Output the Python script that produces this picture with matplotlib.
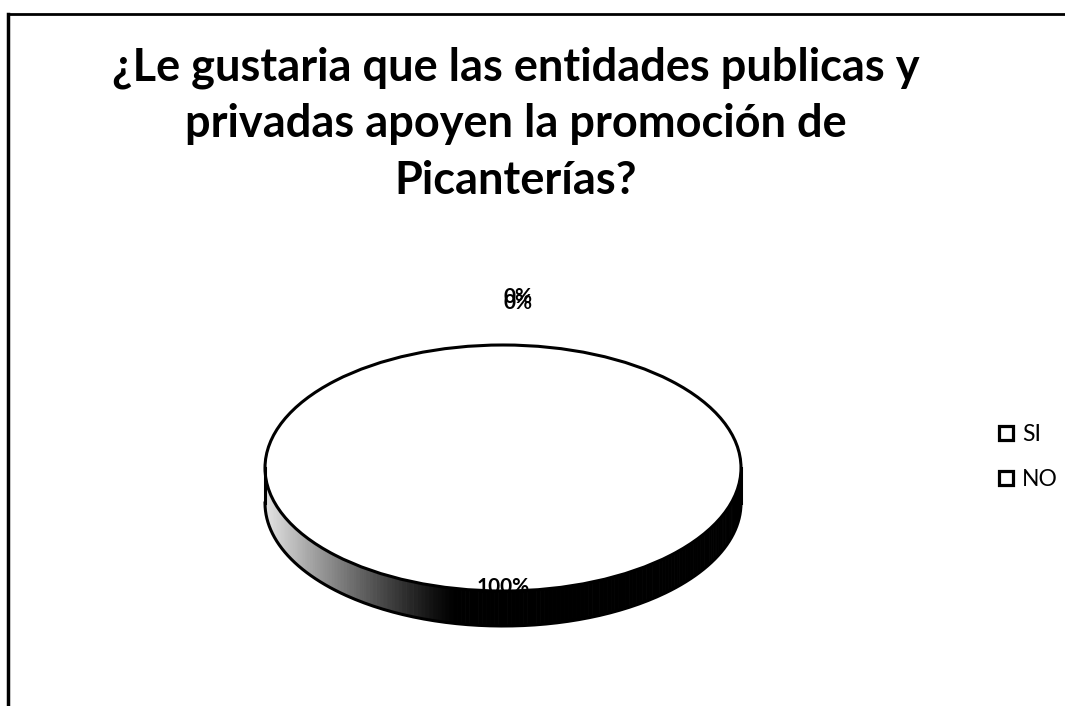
import matplotlib.pyplot as plt
import numpy as np
from matplotlib.lines import Line2D
from matplotlib.patches import Circle, Polygon

plt.rcParams["font.family"] = ["Lato", "DejaVu Sans"]

title = "¿Le gustaria que las entidades publicas y\nprivadas apoyen la promoción de\nPicanterías?"
categories = ["SI", "NO"]
values = [100, 0]

# Pie geometry in pixels (centre, semi axes, side depth)
cx, cy, rx, ry, depth_px = 503, 468, 238, 123, 35
W, H = 1065, 706

fig = plt.figure(figsize=(W / 100, H / 100), dpi=100)
ax = fig.add_axes([0, 0, 1, 1])

wedges, texts, autotexts = ax.pie(
    values,
    startangle=90,
    counterclock=False,
    colors=["white"] * len(values),
    autopct="%1.0f%%",
    wedgeprops=dict(linewidth=0, zorder=3),
    textprops=dict(fontsize=15, fontweight="bold", color="black"),
)
ax.set_aspect("auto")
# map unit circle onto the ellipse
ax.set_xlim(-cx / rx, (W - cx) / rx)
ax.set_ylim((cy - H) / ry, cy / ry)
ax.axis("off")

d = depth_px / ry

# side of the disc with light-to-dark shading
for w in wedges:
    t1, t2 = w.theta1, w.theta2
    for t in np.arange(t1, t2, 1.0):
        a = np.radians(t) % (2 * np.pi)
        if a < np.pi:
            continue
        b = np.radians(min(t + 1.0, t2))
        x0, y0 = np.cos(a), np.sin(a)
        x1, y1 = np.cos(b), np.sin(b)
        s = np.clip((-0.2 - (x0 + x1) / 2) / 0.8, 0, 1)
        g = 0.9 * s ** 1.2
        col = (g, g, g)
        ax.add_patch(Polygon([(x0, y0), (x1, y1), (x1, y1 - d), (x0, y0 - d)],
                             closed=True, facecolor=col, edgecolor=col,
                             linewidth=0.6, zorder=2))

# outlines
ax.add_patch(Circle((0, 0), 1, fill=False, edgecolor="black", linewidth=2.2, zorder=4))
tt = np.linspace(np.pi, 2 * np.pi, 200)
ax.plot(np.cos(tt), np.sin(tt) - d, color="black", lw=2.2, zorder=4)
ax.plot([-1, -1], [0, -d], color="black", lw=2.2, zorder=4)
ax.plot([1, 1], [0, -d], color="black", lw=2.2, zorder=4)

# percentage labels
for w, t in zip(wedges, autotexts):
    mid = np.radians((w.theta1 + w.theta2) / 2)
    if np.sin(mid) < 0:
        r = 0.97
    else:
        r = 1.39
        t.set_ha("left")
    t.set_position((r * np.cos(mid), r * np.sin(mid)))
    t.set_zorder(5)
    t.set_va("center")
# the overlapped duplicate 0% label of the original
for w, t in zip(wedges, autotexts):
    if t.get_text() == "0%":
        x, y = t.get_position()
        ax.text(x, y - 0.045, "0%", fontsize=15, fontweight="bold",
                ha="left", va="center", zorder=5)

fig.text(516 / W, 1 - 124 / H, title, ha="center", va="center",
         fontsize=32.5, fontweight="bold", linespacing=1.42)

handles = [Line2D([], [], marker="s", linestyle="none", markersize=9.5,
                  markerfacecolor="white", markeredgecolor="black",
                  markeredgewidth=2.3) for _ in categories]
fig.legend(handles, categories, loc="center left",
           bbox_to_anchor=(976 / W, 1 - 457 / H), frameon=False,
           fontsize=16.5, handlelength=0.8, handletextpad=0.3, labelspacing=1.05)

# chart border
fig.add_artist(Line2D([8 / W, 8 / W], [0, 1 - 14 / H], color="black", lw=2.5))
fig.add_artist(Line2D([8 / W, 1], [1 - 14 / H, 1 - 14 / H], color="black", lw=2))

fig.savefig("out.png", dpi=100, facecolor="white")
